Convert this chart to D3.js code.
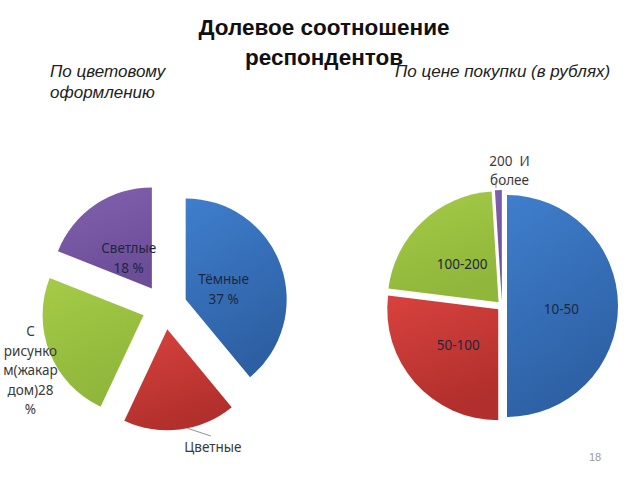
<!DOCTYPE html>
<html><head><meta charset="utf-8">
<script src="https://cdn.jsdelivr.net/npm/d3@7"></script>
<style>html,body{margin:0;padding:0;background:#fff;}svg{display:block;}</style>
</head><body>
<svg id="c" width="640" height="480"></svg>
<script>
// ---- data ----
const colorCats = ["Тёмные", "Цветные", "С рисунком(жакардом)", "Светлые"];
const colorVals = [39, 18, 24, 19];
// label texts as printed on the picture
const colorLabels = [["Тёмные", "37 %"], ["Цветные"], ["С", "рисунко", "м(жакар", "дом)28", "%"], ["Светлые", "18 %"]];
const priceCats = ["10-50", "50-100", "100-200", "200 И более"];
const priceVals = [50, 27, 22, 1];
const priceLabels = [["10-50"], ["50-100"], ["100-200"], ["200\u00a0 И", "более"]];
const titleLines = ["Долевое соотношение", "респондентов"];
const subLeft = ["По цветовому", "оформлению"];
const subRight = ["По цене покупки (в рублях)"];
const pageNum = "18";

const svg = d3.select("#c");
const defs = svg.append("defs");
const grads = [
  ["gBlue", "#3f7ecd", "#2d60a3"],
  ["gRed", "#d8423e", "#b12f2c"],
  ["gGreen", "#a5cb47", "#90b63b"],
  ["gPurple", "#8262ae", "#6c4d98"]
];
grads.forEach(([id, a, b]) => {
  const g = defs.append("linearGradient").attr("id", id)
    .attr("x1", "0").attr("y1", "0").attr("x2", "0.35").attr("y2", "1");
  g.append("stop").attr("offset", "0").attr("stop-color", a);
  g.append("stop").attr("offset", "1").attr("stop-color", b);
});
const fills = ["url(#gBlue)", "url(#gRed)", "url(#gGreen)", "url(#gPurple)"];

const labelFont = "'Noto Sans', 'DejaVu Sans', sans-serif";

function polar(angle, rad) { return [Math.sin(angle) * rad, -Math.cos(angle) * rad]; }

function drawPie(cx, cy, r, explode, vals) {
  const pie = d3.pie().sort(null).value(d => d)(vals);
  const arc = d3.arc().innerRadius(0).outerRadius(r);
  const g = svg.append("g").attr("transform", `translate(${cx},${cy})`);
  const slices = pie.map((p, i) => {
    const mid = (p.startAngle + p.endAngle) / 2;
    const off = polar(mid, explode[i]);
    return { p, i, mid, off };
  });
  g.selectAll("path").data(slices).join("path")
    .attr("d", d => arc(d.p))
    .attr("transform", d => `translate(${d.off[0]},${d.off[1]})`)
    .attr("fill", d => fills[d.i]);
  return { g, slices, r };
}

function drawLabels(P, texts, layout, lh) {
  P.slices.forEach(s => {
    const lab = layout[s.i];
    const lines = texts[s.i];
    const pt = polar(s.mid + lab.da, lab.rf * P.r);
    const x = s.off[0] + pt[0], y = s.off[1] + pt[1];
    const n = lines.length;
    const inside = lab.rf < 1;
    const t = P.g.append("text").attr("text-anchor", "middle")
      .attr("font-family", labelFont).attr("font-size", 13.5)
      .attr("fill", inside ? "#1e2740" : "#3a3a3a");
    lines.forEach((ln, k) => {
      t.append("tspan").attr("x", x).attr("y", y + (k - (n - 1) / 2) * lh + 5).text(ln);
    });
    if (lab.leader) {
      const a0 = polar(s.mid + lab.leader[0], P.r * lab.leader[1]);
      const a1 = lab.leader[2] ? polar(s.mid + lab.leader[0], P.r * lab.leader[2]) : null;
      P.g.append("line")
        .attr("x1", s.off[0] + a0[0]).attr("y1", s.off[1] + a0[1])
        .attr("x2", a1 ? s.off[0] + a1[0] : x - 2).attr("y2", a1 ? s.off[1] + a1[1] : y - 11)
        .attr("stroke", "#777").attr("stroke-width", 0.8);
    }
  });
}

// ---- left pie ----
const L = drawPie(164.5, 307, 101, [22.5, 22.5, 22.5, 22.5], colorVals);
drawLabels(L, colorLabels, [
  { da: 0.075, rf: 0.39 },
  { da: -0.244, rf: 1.25, leader: [-0.075, 1.0] },
  { da: -0.075, rf: 1.245 },
  { da: -0.052, rf: 0.38 }
], 19.5);

// ---- right pie ----
const R = drawPie(502, 306, 111, [5, 5, 5, 5], priceVals);
drawLabels(R, priceLabels, [
  { da: 0.05, rf: 0.49 },
  { da: 0.0, rf: 0.48 },
  { da: 0.0, rf: 0.48 },
  { da: 0.09, rf: 1.18, leader: [-0.02, 1.02, 1.08] }
], 18.5);

// ---- titles ----
const tFont = "'Liberation Sans', Arial, sans-serif";
subLeft.forEach((s, k) => {
  svg.append("text").attr("x", 50).attr("y", 77 + k * 20.5)
    .attr("font-family", tFont).attr("font-style", "italic")
    .attr("font-size", 17).attr("fill", "#222").text(s);
});
subRight.forEach((s, k) => {
  svg.append("text").attr("x", 395).attr("y", 77 + k * 20.5)
    .attr("font-family", tFont).attr("font-style", "italic")
    .attr("font-size", 17).attr("fill", "#222").text(s);
});
titleLines.forEach((s, k) => {
  svg.append("text").attr("x", 324).attr("y", 35 + k * 30)
    .attr("text-anchor", "middle")
    .attr("font-family", tFont).attr("font-weight", "bold")
    .attr("font-size", 22.5).attr("fill", "#111").text(s);
});
svg.append("text").attr("x", 595).attr("y", 461).attr("text-anchor", "middle")
  .attr("font-family", tFont).attr("font-size", 11).attr("fill", "#999").text(pageNum);
</script>
</body></html>
